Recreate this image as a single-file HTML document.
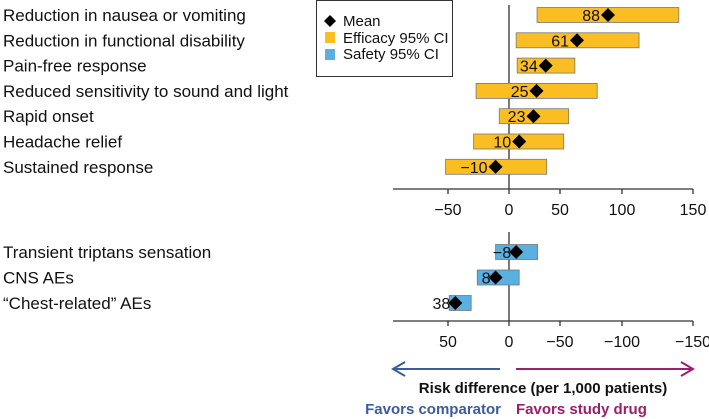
<!DOCTYPE html>
<html><head><meta charset="utf-8"><style>
body{margin:0;background:#fff;}
svg{display:block;font-family:"Liberation Sans",Arial,sans-serif;}
</style></head><body>
<svg id="c" width="709" height="419" viewBox="0 0 709 419"></svg>
<script>
const effCats=["Reduction in nausea or vomiting","Reduction in functional disability","Pain-free response","Reduced sensitivity to sound and light","Rapid onset","Headache relief","Sustained response"];
const effLow=[27.5,7,8,-27,-8,-29,-52];
const effHigh=[140,112,62,80,57,53,37];
const effMean=[88.7,63.7,36,27,24,10,-11];
const effLabels=["88","61","34","25","23","10","\u221210"];
const safCats=["Transient triptans sensation","CNS AEs","\u201cChest-related\u201d AEs"];
const safLow=[11,26,49];
const safHigh=[-28,-10,31];
const safMean=[-7,11,44];
const safLabels=["\u22128","8","38"];
const topTicks=[-50,0,50,100,150];
const botTicks=[50,0,-50,-100,-150];
const tickVals=[-50,0,50,100,150];
const tickPx=[448,509,560,622,693];
function xTop(v){
  let i=0; if(v>50)i=2; if(v>100)i=3; if(v<=0)i=0; else if(v<=50)i=1;
  return tickPx[i]+(v-tickVals[i])*(tickPx[i+1]-tickPx[i])/(tickVals[i+1]-tickVals[i]);
}
function xBot(v){return xTop(-v);}
const effY=i=>15+i*25.3;
const safY=i=>252+i*25.5;
const svg=document.getElementById('c');
const NS='http://www.w3.org/2000/svg';
function el(t,a,txt){const e=document.createElementNS(NS,t);for(const k in a)e.setAttribute(k,a[k]);if(txt!=null)e.textContent=txt;svg.appendChild(e);return e;}
function diamond(x,y){return el('polygon',{points:`${x},${y-7} ${x+7},${y} ${x},${y+7} ${x-7},${y}`,fill:'#000'});}
let z=el('line',{x1:509,y1:5,x2:509,y2:189,stroke:'#333','stroke-width':1.3});

z=el('line',{x1:509,y1:232,x2:509,y2:321,stroke:'#333','stroke-width':1.3});

effCats.forEach((c,i)=>{
  const y=effY(i);
  let t=el('text',{x:3,y:y+6,'font-size':17,fill:'#111'},c);
  
  const x1=xTop(effLow[i]),x2=xTop(effHigh[i]);
  let r=el('rect',{x:x1,y:y-7.5,width:x2-x1,height:15,fill:'#FBBE22',stroke:'#777','stroke-width':0.8});
  
  const mx=xTop(effMean[i]);
  let d=diamond(mx,y);
  
  let v=el('text',{x:mx-8,y:y+6,'font-size':16,'text-anchor':'end',fill:'#111'},effLabels[i]);
  
});
safCats.forEach((c,i)=>{
  const y=safY(i);
  let t=el('text',{x:3,y:y+6,'font-size':17,fill:'#111'},c);
  
  const a=xBot(safLow[i]),b=xBot(safHigh[i]);
  let r=el('rect',{x:Math.min(a,b),y:y-7.5,width:Math.abs(b-a),height:15,fill:'#5AB0E0',stroke:'#777','stroke-width':0.8});
  
  const mx=xBot(safMean[i]);
  let d=diamond(mx,y);
  
  let v=el('text',{x:mx-5,y:y+6,'font-size':16,'text-anchor':'end',fill:'#111'},safLabels[i]);
  
});
[[189,topTicks,xTop,'efficacy'],[321,botTicks,xBot,'safety']].forEach(([ay,ticks,f,n])=>{
  let a=el('line',{x1:393,y1:ay,x2:693,y2:ay,stroke:'#333','stroke-width':1.3});
  
  ticks.forEach(v=>{
    const x=f(v);
    let tk=el('line',{x1:x,y1:ay,x2:x,y2:ay+5,stroke:'#333','stroke-width':1.3});
    
    let tl=el('text',{x:x,y:ay+26,'font-size':16,'text-anchor':'middle',fill:'#111'},v<0?'\u2212'+(-v):String(v));
    
  });
});
</script>
<svg width="709" height="419" style="position:absolute;left:0;top:0">
  <g>
    <rect x="316.5" y="0.5" width="136" height="76" fill="#fff" stroke="#333" stroke-width="1"/>
    <polygon points="330,15 336,21 330,27 324,21" fill="#000"/>
    <text x="343" y="26" font-size="15" fill="#111" font-family="Liberation Sans, sans-serif">Mean</text>
    <rect x="325" y="32" width="10" height="11" fill="#FBBE22"/>
    <text x="343" y="43" font-size="15" fill="#111" font-family="Liberation Sans, sans-serif">Efficacy 95% CI</text>
    <rect x="325" y="49" width="10" height="11" fill="#5AB0E0"/>
    <text x="343" y="59" font-size="15" fill="#111" font-family="Liberation Sans, sans-serif">Safety 95% CI</text>
  </g>
  <g stroke="#3B5CA0" stroke-width="2" fill="none">
    <line x1="393" y1="369" x2="500" y2="369"/><polyline points="405,362 393,369 405,376"/>
  </g>
  <g stroke="#9B1F6A" stroke-width="2" fill="none">
    <line x1="516" y1="369" x2="693" y2="369"/><polyline points="681,362 693,369 681,376"/>
  </g>
  <text x="543" y="393" font-size="15" font-weight="bold" text-anchor="middle" fill="#111" font-family="Liberation Sans, sans-serif">Risk difference (per 1,000 patients)</text>
  <text x="501" y="414" font-size="15" font-weight="bold" text-anchor="end" fill="#3B5CA0" font-family="Liberation Sans, sans-serif">Favors comparator</text>
  <text x="516" y="414" font-size="15" font-weight="bold" fill="#9B1F6A" font-family="Liberation Sans, sans-serif">Favors study drug</text>
</svg>
</body></html>
